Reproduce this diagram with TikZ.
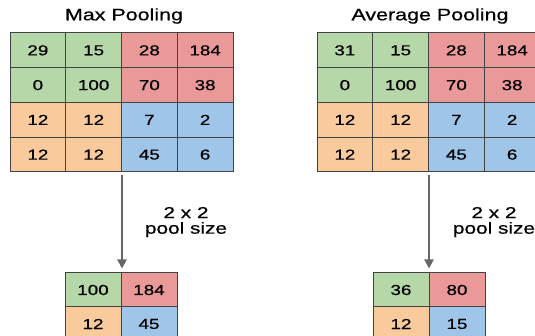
\documentclass[tikz,border=0pt]{standalone}
\usepackage{fontspec}
\setmainfont[FakeStretch=1.3,FakeBold=0.6]{Liberation Sans}
\usetikzlibrary{arrows.meta}

\definecolor{cellgreen}{HTML}{B6D7A8}
\definecolor{cellred}{HTML}{EA9999}
\definecolor{cellorange}{HTML}{F9CB9C}
\definecolor{cellblue}{HTML}{9FC5E8}
\definecolor{gridline}{HTML}{434343}
\definecolor{arrowgray}{HTML}{666666}

\begin{document}
\begin{tikzpicture}[x=1pt, y=-1pt,
    cell/.style={draw=gridline, line width=1pt, minimum width=55.75pt, minimum height=34.75pt, inner sep=0pt, font=\fontsize{14.5}{17}\selectfont},
    small cell/.style={cell, minimum width=56pt, minimum height=34pt},
    heading/.style={font=\fontsize{16.5}{19}\selectfont},
    poolsize/.style={align=center, font=\fontsize{16}{15.5}\selectfont},
    poolarrow/.style={draw=arrowgray, line width=2pt, -{Triangle[length=9pt,width=9pt]}, shorten <=3pt, shorten >=4pt}]

    \useasboundingbox (0,0) rectangle (535,336);
    \clip (0,0) rectangle (535,336);

    \node[heading] (tmax) at (124,16) {Max Pooling};
    \node[heading] (tavg) at (430,16) {Average Pooling};

    \foreach \v/\c [count=\i from 0] in {29/cellgreen, 15/cellgreen, 28/cellred, 184/cellred,
                                         0/cellgreen, 100/cellgreen, 70/cellred, 38/cellred,
                                         12/cellorange, 12/cellorange, 7/cellblue, 2/cellblue,
                                         12/cellorange, 12/cellorange, 45/cellblue, 6/cellblue} {
        \pgfmathtruncatemacro{\row}{div(\i,4)}
        \pgfmathtruncatemacro{\col}{mod(\i,4)}
        \node[cell, fill=\c] (m\row\col) at ({10+55.75*(\col+0.5)}, {33+34.75*(\row+0.5)}) {\v};
    }

    \foreach \v/\c [count=\i from 0] in {31/cellgreen, 15/cellgreen, 28/cellred, 184/cellred,
                                         0/cellgreen, 100/cellgreen, 70/cellred, 38/cellred,
                                         12/cellorange, 12/cellorange, 7/cellblue, 2/cellblue,
                                         12/cellorange, 12/cellorange, 45/cellblue, 6/cellblue} {
        \pgfmathtruncatemacro{\row}{div(\i,4)}
        \pgfmathtruncatemacro{\col}{mod(\i,4)}
        \node[cell, fill=\c] (a\row\col) at ({317+55.75*(\col+0.5)}, {33+34.75*(\row+0.5)}) {\v};
    }

    \node[small cell, fill=cellgreen] (pm00) at (93,290) {100};
    \node[small cell, fill=cellred] (pm01) at (149,290) {184};
    \node[small cell, fill=cellorange] (pm10) at (93,324) {12};
    \node[small cell, fill=cellblue] (pm11) at (149,324) {45};

    \node[small cell, fill=cellgreen] (pa00) at (401,290) {36};
    \node[small cell, fill=cellred] (pa01) at (457,290) {80};
    \node[small cell, fill=cellorange] (pa10) at (401,324) {12};
    \node[small cell, fill=cellblue] (pa11) at (457,324) {15};

    \draw[poolarrow] (m31.south east) -- (m31.south east |- pm00.north);
    \draw[poolarrow] (a31.south east) -- (a31.south east |- pa00.north);

    \node[poolsize] (smax) at (186,222) {2 x 2\\pool size};
    \node[poolsize] (savg) at (494,222) {2 x 2\\pool size};

\end{tikzpicture}
\end{document}
